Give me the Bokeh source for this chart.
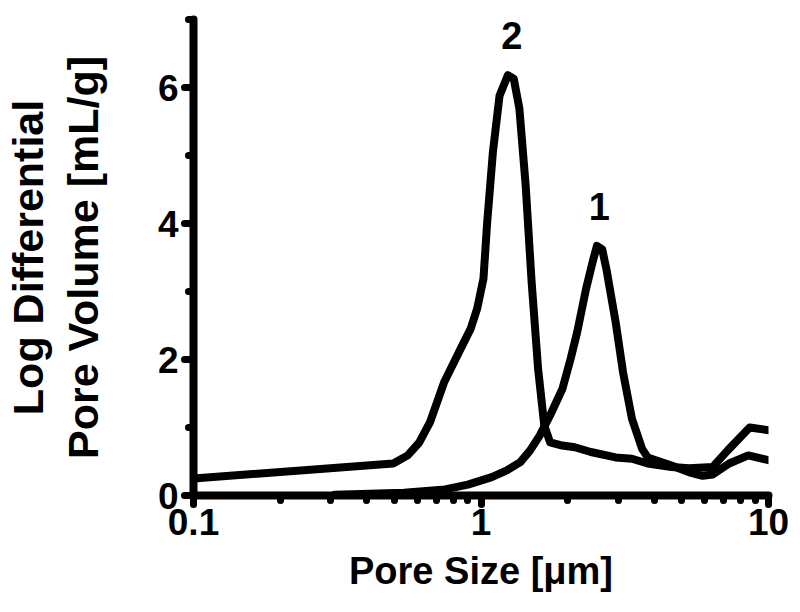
from bokeh.plotting import figure
from bokeh.models import Range1d, FixedTicker, ColumnDataSource
from bokeh.core.properties import value
from bokeh.embed import file_html
from bokeh.resources import INLINE

# Sample 2 (peak near 1.2 um)
x2 = [0.1, 0.495, 0.556, 0.61, 0.665, 0.745, 0.85, 0.92, 0.97, 1.02, 1.05, 1.10, 1.16, 1.24, 1.30,
      1.36, 1.43, 1.50, 1.58, 1.66, 1.74, 1.89, 2.12, 2.41, 2.94, 3.35, 3.8, 4.6, 5.3, 6.4, 7.2, 8.6, 10.0]
y2 = [0.25, 0.47, 0.59, 0.78, 1.08, 1.67, 2.16, 2.45, 2.75, 3.19, 4.0, 5.05, 5.88, 6.18, 6.13,
      5.69, 4.56, 3.14, 1.86, 1.03, 0.78, 0.74, 0.71, 0.64, 0.56, 0.54, 0.47, 0.42, 0.40, 0.42, 0.66, 1.0, 0.96]

# Sample 1 (peak near 2.5 um)
x1 = [0.31, 0.54, 0.75, 0.9, 1.09, 1.23, 1.37, 1.48, 1.6, 1.74, 1.92, 2.05, 2.16, 2.32, 2.45, 2.53,
      2.64, 2.73, 2.94, 3.12, 3.35, 3.63, 3.8, 4.6, 5.3, 5.9, 6.4, 7.3, 8.5, 10.0]
y1 = [0.01, 0.04, 0.09, 0.16, 0.27, 0.37, 0.49, 0.66, 0.88, 1.18, 1.57, 2.01, 2.40, 3.04, 3.45, 3.67,
      3.62, 3.33, 2.55, 1.81, 1.13, 0.69, 0.56, 0.44, 0.34, 0.29, 0.31, 0.47, 0.59, 0.52]

peak_labels = ["1", "2"]
peak_label_x = [2.58, 1.28]
peak_label_y = [4.25, 6.77]

x_major = [0.1, 1, 10]
x_minor = [0.2, 0.3, 0.4, 0.5, 0.6, 0.7, 0.8, 0.9, 2, 3, 4, 5, 6, 7, 8, 9]
y_major = [0, 2, 4, 6]
y_minor = [1, 3, 5, 7]

FONT = "Liberation Sans"

p = figure(width=792, height=604, x_axis_type="log",
           x_range=Range1d(0.1, 10), y_range=Range1d(0, 7),
           output_backend="svg", toolbar_location=None,
           min_border_left=183, min_border_right=24, min_border_top=19, min_border_bottom=109)
p.outline_line_color = None
p.grid.visible = False

p.line(x2, y2, line_color="black", line_width=8, line_join="round", line_cap="round")
p.line(x1, y1, line_color="black", line_width=8, line_join="round", line_cap="round")

src = ColumnDataSource(dict(x=peak_label_x, y=peak_label_y, t=peak_labels))
p.text(x="x", y="y", text="t", source=src, text_font=value(FONT), text_font_style="bold",
       text_font_size="38px", text_align="center", text_baseline="middle", text_color="black")

p.xaxis.ticker = FixedTicker(ticks=x_major, minor_ticks=x_minor)
p.yaxis.ticker = FixedTicker(ticks=y_major, minor_ticks=y_minor)
p.xaxis.major_label_overrides = {0.1: "0.1", 1: "1", 10: "10"}

for ax in (p.xaxis[0], p.yaxis[0]):
    ax.axis_line_width = 8
    ax.axis_line_cap = "round"
    ax.axis_line_color = "black"
    ax.major_tick_in = 0
    ax.major_tick_out = 9
    ax.major_tick_line_width = 7
    ax.major_tick_line_cap = "round"
    ax.minor_tick_in = 0
    ax.minor_tick_out = 5
    ax.minor_tick_line_width = 7
    ax.minor_tick_line_cap = "round"
    ax.major_label_text_font = FONT
    ax.major_label_text_font_style = "bold"
    ax.major_label_text_font_size = "37px"
    ax.major_label_text_color = "black"
    ax.axis_label_text_font = FONT
    ax.axis_label_text_font_style = "bold"
    ax.axis_label_text_color = "black"

p.xaxis.axis_label = "Pore Size [\u03bcm]"
p.xaxis.axis_label_text_font_size = "38px"
p.yaxis.axis_label = "Log Differential\nPore Volume [mL/g]"
p.yaxis.axis_label_text_font_size = "43px"
p.yaxis.axis_label_text_line_height = 1.15
p.xaxis.major_label_standoff = 4
p.yaxis.major_label_standoff = 6
p.xaxis.axis_label_standoff = 12
p.yaxis.axis_label_standoff = 48

open("out.html", "w").write(file_html(p, INLINE))
